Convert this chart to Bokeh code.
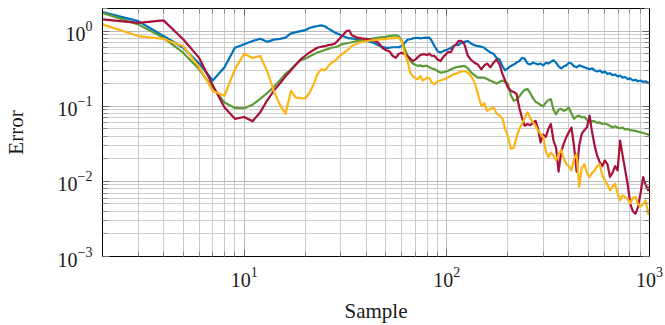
from bokeh.plotting import figure
from bokeh.models import FixedTicker, LogAxis, Range1d
from bokeh.embed import file_html
from bokeh.resources import INLINE

sample = [2, 3, 4, 5, 6, 7, 8, 9, 10, 11, 12, 13, 14, 15, 16, 17, 18, 19, 20, 21,
          22, 23, 24, 25, 26, 27, 28, 29, 30, 32, 33, 34, 36, 38, 40, 42, 44, 46, 48, 50,
          52, 54, 56, 58, 60, 62, 64, 66, 68, 70, 72, 74, 76, 78, 80, 82, 84, 87, 90, 93,
          97, 101, 105, 108, 111, 114, 118, 122, 127, 132, 137, 142, 148, 153, 158, 164, 170, 176, 182, 188,
          194, 200, 207, 214, 221, 228, 235, 242, 250, 258, 266, 274, 282, 290, 299, 308, 317, 326, 336, 346,
          356, 367, 378, 389, 400, 412, 424, 437, 450, 463, 477, 491, 506, 521, 536, 552, 568, 585, 602, 620,
          638, 657, 676, 696, 716, 737, 759, 781, 804, 828, 852, 877, 903, 930, 957, 985, 1000]

err_blue = [1.79, 1.36, 0.86, 0.60, 0.37, 0.22, 0.33, 0.60, 0.67, 0.74, 0.79, 0.72, 0.77, 0.79, 0.82, 0.93, 0.97, 1.00, 1.03, 1.10,
            1.14, 1.17, 1.19, 1.16, 1.08, 1.02, 0.96, 0.92, 0.88, 0.82, 0.80, 0.80, 0.78, 0.776, 0.74, 0.72, 0.69, 0.65, 0.62, 0.60,
            0.60, 0.61, 0.61, 0.61, 0.64, 0.70, 0.77, 0.78, 0.80, 0.81, 0.815, 0.80, 0.81, 0.82, 0.815, 0.82, 0.75, 0.63, 0.54, 0.52,
            0.55, 0.57, 0.60, 0.63, 0.66, 0.65, 0.70, 0.72, 0.737, 0.68, 0.65, 0.63, 0.62, 0.60, 0.56, 0.52, 0.50, 0.44, 0.42, 0.34,
            0.30, 0.32, 0.344, 0.36, 0.38, 0.40, 0.44, 0.43, 0.37, 0.36, 0.38, 0.37, 0.36, 0.37, 0.35, 0.38, 0.37, 0.39, 0.41, 0.38,
            0.34, 0.32, 0.34, 0.35, 0.38, 0.37, 0.34, 0.33, 0.35, 0.34, 0.33, 0.32, 0.31, 0.32, 0.30, 0.29, 0.30, 0.28, 0.29, 0.27,
            0.275, 0.26, 0.265, 0.25, 0.255, 0.24, 0.245, 0.23, 0.235, 0.22, 0.225, 0.215, 0.22, 0.21, 0.215, 0.205, 0.20]

err_red = [1.43, 1.29, 1.39, 0.78, 0.44, 0.19, 0.096, 0.068, 0.072, 0.063, 0.083, 0.12, 0.16, 0.20, 0.25, 0.30, 0.36, 0.42, 0.47, 0.52,
           0.56, 0.60, 0.62, 0.63, 0.65, 0.66, 0.68, 0.75, 0.83, 1.00, 1.02, 0.88, 0.82, 0.80, 0.79, 0.77, 0.74, 0.70, 0.60, 0.56,
           0.54, 0.47, 0.44, 0.50, 0.516, 0.49, 0.467, 0.43, 0.40, 0.42, 0.45, 0.48, 0.49, 0.49, 0.48, 0.50, 0.47, 0.467, 0.42, 0.40,
           0.467, 0.52, 0.53, 0.63, 0.66, 0.737, 0.74, 0.67, 0.47, 0.41, 0.38, 0.36, 0.31, 0.35, 0.37, 0.33, 0.38, 0.42, 0.36, 0.27,
           0.22, 0.177, 0.16, 0.155, 0.145, 0.095, 0.07, 0.055, 0.058, 0.056, 0.06, 0.064, 0.05, 0.033, 0.042, 0.039, 0.05, 0.058, 0.035, 0.028,
           0.0135, 0.025, 0.032, 0.039, 0.045, 0.052, 0.03, 0.0135, 0.03, 0.043, 0.048, 0.052, 0.075, 0.045, 0.03, 0.022, 0.018, 0.016, 0.019, 0.017,
           0.0115, 0.013, 0.016, 0.014, 0.035, 0.022, 0.014, 0.009, 0.005, 0.004, 0.0037, 0.0045, 0.0069, 0.0114, 0.009, 0.0076, 0.0085]

err_green = [1.75, 1.23, 0.815, 0.516, 0.31, 0.177, 0.112, 0.095, 0.094, 0.105, 0.125, 0.15, 0.18, 0.22, 0.27, 0.31, 0.36, 0.41, 0.43, 0.46,
             0.49, 0.52, 0.54, 0.56, 0.58, 0.60, 0.61, 0.63, 0.66, 0.69, 0.70, 0.71, 0.74, 0.76, 0.77, 0.79, 0.80, 0.82, 0.83, 0.84,
             0.86, 0.87, 0.88, 0.85, 0.74, 0.58, 0.47, 0.40, 0.37, 0.355, 0.345, 0.35, 0.34, 0.345, 0.344, 0.33, 0.32, 0.31, 0.295, 0.28,
             0.285, 0.295, 0.31, 0.32, 0.33, 0.335, 0.34, 0.345, 0.32, 0.28, 0.26, 0.24, 0.24, 0.24, 0.23, 0.218, 0.21, 0.20, 0.21, 0.22,
             0.21, 0.20, 0.14, 0.118, 0.122, 0.135, 0.152, 0.165, 0.17, 0.15, 0.128, 0.115, 0.11, 0.104, 0.10, 0.112, 0.12, 0.124, 0.09, 0.078,
             0.09, 0.092, 0.087, 0.09, 0.096, 0.08, 0.068, 0.073, 0.075, 0.071, 0.072, 0.066, 0.061, 0.064, 0.063, 0.06, 0.061, 0.058, 0.059, 0.057,
             0.055, 0.052, 0.054, 0.052, 0.051, 0.052, 0.049, 0.050, 0.048, 0.0475, 0.047, 0.046, 0.045, 0.044, 0.043, 0.042, 0.041]

err_yellow = [1.23, 0.86, 0.79, 0.63, 0.33, 0.16, 0.138, 0.31, 0.50, 0.44, 0.467, 0.29, 0.16, 0.105, 0.079, 0.16, 0.13, 0.128, 0.127, 0.15,
              0.195, 0.27, 0.31, 0.30, 0.34, 0.38, 0.40, 0.44, 0.48, 0.55, 0.58, 0.64, 0.68, 0.72, 0.73, 0.75, 0.76, 0.77, 0.78, 0.78,
              0.80, 0.80, 0.81, 0.81, 0.72, 0.50, 0.40, 0.28, 0.25, 0.235, 0.229, 0.254, 0.22, 0.23, 0.24, 0.235, 0.21, 0.196, 0.215, 0.22,
              0.229, 0.24, 0.255, 0.267, 0.27, 0.28, 0.29, 0.295, 0.28, 0.25, 0.207, 0.15, 0.10, 0.11, 0.087, 0.092, 0.096, 0.08, 0.075, 0.068,
              0.05, 0.04, 0.027, 0.028, 0.039, 0.05, 0.058, 0.07, 0.083, 0.07, 0.061, 0.055, 0.047, 0.043, 0.039, 0.025, 0.021, 0.024, 0.022, 0.019,
              0.023, 0.026, 0.02, 0.017, 0.016, 0.014, 0.02, 0.023, 0.0085, 0.015, 0.017, 0.013, 0.0114, 0.013, 0.014, 0.016, 0.017, 0.012, 0.0103, 0.009,
              0.0076, 0.0085, 0.0093, 0.007, 0.0056, 0.0065, 0.0062, 0.0058, 0.0051, 0.006, 0.0062, 0.005, 0.0046, 0.005, 0.0056, 0.0037, 0.0042]

x_ticks = [10, 100, 1000]
x_tick_labels = ["10\u00b9", "10\u00b2", "10\u00b3"]
y_ticks = [1e-3, 1e-2, 1e-1, 1.0]
y_tick_labels = ["10\u207b\u00b3", "10\u207b\u00b2", "10\u207b\u00b9", "10\u2070"]

x_minor = [m * 10 ** e for e in range(0, 3) for m in range(2, 10)]
y_minor = [m * 10.0 ** e for e in range(-3, 1) for m in range(2, 10)]

FONT = "Liberation Serif"

p = figure(width=665, height=325, x_axis_type="log", y_axis_type="log",
           x_range=Range1d(2, 1000), y_range=Range1d(1e-3, 2.0),
           output_backend="svg", toolbar_location=None,
           min_border_left=100, min_border_right=16, min_border_top=8, min_border_bottom=69)

p.background_fill_color = "white"
p.border_fill_color = "white"
p.outline_line_color = "black"
p.outline_line_width = 1

for g in (p.xgrid, p.ygrid):
    g.grid_line_color = "#bababa"
    g.grid_line_width = 1
    g.minor_grid_line_color = "#cccccc"
    g.minor_grid_line_width = 1

p.xaxis.ticker = FixedTicker(ticks=x_ticks, minor_ticks=x_minor)
p.yaxis.ticker = FixedTicker(ticks=y_ticks, minor_ticks=y_minor)
p.xgrid.ticker = p.xaxis.ticker
p.ygrid.ticker = p.yaxis.ticker
p.xaxis.major_label_overrides = {str(k): v for k, v in zip(x_ticks, x_tick_labels)}
p.yaxis.major_label_overrides = {str(k): v for k, v in zip(y_ticks, y_tick_labels)}

for ax in (p.xaxis[0], p.yaxis[0]):
    ax.axis_line_color = "black"
    ax.axis_line_width = 1
    ax.major_tick_in = 7
    ax.major_tick_out = 0
    ax.minor_tick_in = 5
    ax.minor_tick_out = 0
    ax.major_tick_line_color = "#666666"
    ax.minor_tick_line_color = "#888888"
    ax.major_label_text_font = FONT
    ax.major_label_text_font_size = "20px"
    ax.major_label_text_color = "#1a1a1a"
    ax.axis_label_text_font = FONT
    ax.axis_label_text_font_size = "21px"
    ax.axis_label_text_font_style = "normal"
    ax.axis_label_text_color = "#1a1a1a"

p.xaxis.axis_label = "Sample"
p.yaxis.axis_label = "Error"
p.xaxis.major_label_standoff = 10
p.yaxis.major_label_standoff = 10
p.xaxis.axis_label_standoff = 9
p.yaxis.axis_label_standoff = 27

right = LogAxis(ticker=FixedTicker(ticks=y_ticks, minor_ticks=y_minor))
top = LogAxis(ticker=FixedTicker(ticks=x_ticks, minor_ticks=x_minor))
for ax in (right, top):
    ax.major_label_text_font_size = "1px"
    ax.major_label_text_alpha = 0
    ax.major_label_standoff = 0
    ax.major_tick_in = 7
    ax.major_tick_out = 0
    ax.minor_tick_in = 5
    ax.minor_tick_out = 0
    ax.axis_line_color = "black"
    ax.major_tick_line_color = "#666666"
    ax.minor_tick_line_color = "#888888"
p.add_layout(right, "right")
p.add_layout(top, "above")

series = [
    (err_blue, "#0072BD"),
    (err_green, "#5B9A35"),
    (err_red, "#A8113A"),
    (err_yellow, "#FDB515"),
]
for vals, col in series:
    p.line(sample, vals, line_color=col, line_width=2.2, line_join="round")

open("out.html", "w").write(file_html(p, INLINE))
